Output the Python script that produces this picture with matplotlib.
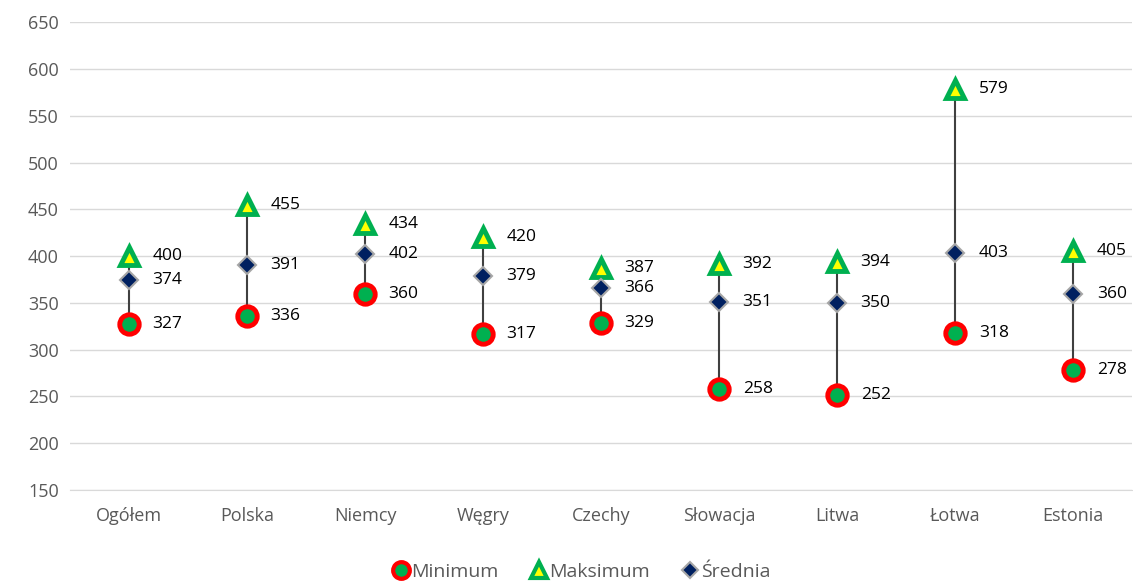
import matplotlib.pyplot as plt
from matplotlib.lines import Line2D

plt.rcParams['font.family'] = ['Open Sans', 'DejaVu Sans']

kraje = ["Ogółem", "Polska", "Niemcy", "Węgry", "Czechy", "Słowacja", "Litwa", "Łotwa", "Estonia"]
minimum = [327, 336, 360, 317, 329, 258, 252, 318, 278]
maksimum = [400, 455, 434, 420, 387, 392, 394, 579, 405]
srednia = [374, 391, 402, 379, 366, 351, 350, 403, 360]

fig = plt.figure(figsize=(11.33, 5.84), dpi=100)
ax = fig.add_axes([0.0618, 0.161, 0.9374, 0.801])

x = list(range(len(kraje)))

# pionowe linie od minimum do maksimum
for i in x:
    ax.plot([i, i], [minimum[i], maksimum[i]], color="#404040", linewidth=1.5, zorder=2)

ax.plot(x, minimum, linestyle="none", marker="o", markersize=14, markerfacecolor="#00B050",
        markeredgecolor="#FF0000", markeredgewidth=3.5, zorder=3, label="Minimum")
ax.plot(x, maksimum, linestyle="none", marker="^", markersize=13.5, markerfacecolor="#FFFF00",
        markeredgecolor="#00B050", markeredgewidth=3.5, zorder=3, label="Maksimum")
ax.plot(x, srednia, linestyle="none", marker="D", markersize=9, markerfacecolor="#002060",
        markeredgecolor="#A6A6A6", markeredgewidth=1.5, zorder=4, label="Średnia")

for seria in (minimum, maksimum, srednia):
    for i, v in zip(x, seria):
        ax.annotate(str(v), (i, v), xytext=(17, 0), textcoords="offset points",
                    ha="left", va="center", fontsize=12.5, color="black")

ax.set_xlim(-0.5, len(kraje) - 0.5)
ax.set_ylim(150, 650)
ax.set_yticks(range(150, 651, 50))
ax.set_xticks(x)
ax.set_xticklabels(kraje)
ax.grid(axis="y", color="#D9D9D9", linewidth=1)
ax.set_axisbelow(True)
for s in ax.spines.values():
    s.set_visible(False)
ax.spines["bottom"].set_visible(True)
ax.spines["bottom"].set_color("#D9D9D9")
ax.tick_params(axis="both", length=0, labelsize=13, colors="#595959")
ax.tick_params(axis="x", pad=12)
ax.tick_params(axis="y", pad=8)

uchwyty = [
    Line2D([], [], linestyle="none", marker="o", markersize=12, markerfacecolor="#00B050",
           markeredgecolor="#FF0000", markeredgewidth=3),
    Line2D([], [], linestyle="none", marker="^", markersize=12, markerfacecolor="#FFFF00",
           markeredgecolor="#00B050", markeredgewidth=3),
    Line2D([], [], linestyle="none", marker="D", markersize=8, markerfacecolor="#002060",
           markeredgecolor="#A6A6A6", markeredgewidth=1.5),
]
leg = fig.legend(uchwyty, ["Minimum", "Maksimum", "Średnia"], loc="lower center",
                 bbox_to_anchor=(0.512, -0.025), ncol=3, frameon=False, fontsize=14,
                 handletextpad=0.0, columnspacing=1.5, handlelength=1.1)
for t in leg.get_texts():
    t.set_color("#595959")

fig.savefig("out.png", dpi=100)
